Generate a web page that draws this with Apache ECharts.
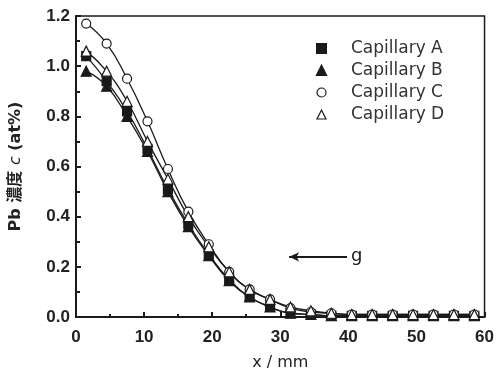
<!DOCTYPE html>
<html>
<head>
<meta charset="utf-8">
<script src="https://cdn.jsdelivr.net/npm/echarts@6/dist/echarts.min.js"></script>
<style>
  html, body { margin: 0; padding: 0; background: #fff; }
  #chart { width: 497px; height: 378px; }
</style>
</head>
<body>
<div id="chart"></div>
<script>
// positions along the capillary (mm)
var xPos = [1.5, 4.5, 7.5, 10.5, 13.5, 16.5, 19.5, 22.5, 25.5, 28.5, 31.5, 34.5, 37.5, 40.5, 43.5, 46.5, 49.5, 52.5, 55.5, 58.5];
// Pb concentration (at%)
var capA = [1.04, 0.94, 0.82, 0.67, 0.51, 0.37, 0.25, 0.15, 0.08, 0.04, 0.015, 0.01, 0.005, 0.005, 0.005, 0.005, 0.005, 0.005, 0.005, 0.005];
var capB = [0.98, 0.92, 0.80, 0.66, 0.50, 0.36, 0.245, 0.145, 0.08, 0.04, 0.015, 0.01, 0.005, 0.005, 0.005, 0.005, 0.005, 0.005, 0.005, 0.005];
var capC = [1.17, 1.09, 0.95, 0.78, 0.59, 0.42, 0.29, 0.18, 0.11, 0.07, 0.035, 0.02, 0.015, 0.01, 0.01, 0.01, 0.01, 0.01, 0.01, 0.01];
var capD = [1.06, 0.98, 0.86, 0.70, 0.55, 0.40, 0.28, 0.18, 0.11, 0.07, 0.04, 0.025, 0.015, 0.01, 0.01, 0.01, 0.01, 0.01, 0.01, 0.01];
var names = ['Capillary A', 'Capillary B', 'Capillary C', 'Capillary D'];

var ink = '#1a1a1a';
var font = 'DejaVu Sans';
var tickFont = 'Liberation Sans';

function pairs(ys) {
  return xPos.map(function (x, i) { return [x, ys[i]]; });
}

function makeSeries(name, ys, symbol, size, filled) {
  return {
    name: name,
    type: 'line',
    smooth: true,
    data: pairs(ys),
    symbol: symbol,
    symbolSize: size,
    showAllSymbol: true,
    lineStyle: { color: ink, width: 1.3 },
    itemStyle: { color: filled ? ink : '#fff', borderColor: ink, borderWidth: 1.2 },
    emphasis: { disabled: true },
    z: filled ? 2 : 3
  };
}

var chart = echarts.init(document.getElementById('chart'));
var series = [
  makeSeries(names[0], capA, 'rect', 9, true),
  makeSeries(names[1], capB, 'triangle', 10, true),
  makeSeries(names[2], capC, 'circle', 9, false),
  makeSeries(names[3], capD, 'triangle', 10, false)
];
// arrow pointing at the profile, labelled g
series[0].markLine = {
  silent: true,
  symbol: ['none', 'arrow'],
  symbolSize: [7, 10],
  lineStyle: { color: ink, width: 2, type: 'solid' },
  label: { show: true, position: 'start', formatter: 'g', color: ink, fontFamily: font, fontSize: 18, distance: 4 },
  data: [[{ coord: [39.8, 0.24] }, { coord: [31.3, 0.24] }]]
};

chart.setOption({
  animation: false,
  backgroundColor: '#fff',
  grid: { left: 75, right: 8, top: 16, bottom: 61, show: true, borderColor: ink, borderWidth: 1.5 },
  legend: {
    orient: 'vertical',
    left: 311,
    top: 35,
    itemWidth: 9,
    itemHeight: 9,
    itemGap: 5,
    data: [
      { name: names[0], icon: 'rect' },
      { name: names[1], icon: 'triangle' },
      { name: names[2], icon: 'circle', itemStyle: { color: '#fff', borderColor: ink, borderWidth: 1.2 } },
      { name: names[3], icon: 'triangle', itemStyle: { color: '#fff', borderColor: ink, borderWidth: 1.2 } }
    ],
    textStyle: { color: '#333', fontFamily: font, fontSize: 17, padding: [0, 0, 0, 20] }
  },
  xAxis: {
    type: 'value',
    min: 0, max: 60, interval: 10,
    name: 'x / mm',
    nameLocation: 'middle',
    nameGap: 38,
    nameTextStyle: { color: '#222', fontFamily: font, fontSize: 16 },
    axisLine: { lineStyle: { color: ink, width: 2 } },
    axisTick: { inside: true, length: 5, lineStyle: { color: ink, width: 2 } },
    minorTick: { show: true, splitNumber: 2, length: 3, lineStyle: { color: ink, width: 2 } },
    axisLabel: { color: '#222', fontFamily: tickFont, fontWeight: 'bold', fontSize: 17, margin: 12 },
    splitLine: { show: false }
  },
  yAxis: {
    type: 'value',
    min: 0, max: 1.2, interval: 0.2,
    name: '{n|Pb 濃度 }{i|c}{n| (at%)}',
    nameLocation: 'middle',
    nameGap: 52,
    nameTextStyle: {
      rich: {
        n: { color: '#222', fontFamily: font + ', Noto Sans CJK JP', fontSize: 16, fontWeight: 'bold' },
        i: { color: '#222', fontFamily: font, fontSize: 16, fontStyle: 'italic' }
      }
    },
    axisLine: { lineStyle: { color: ink, width: 2 } },
    axisTick: { inside: true, length: 5, lineStyle: { color: ink, width: 2 } },
    minorTick: { show: true, splitNumber: 2, length: 4, lineStyle: { color: ink, width: 2 } },
    axisLabel: {
      color: '#222', fontFamily: tickFont, fontWeight: 'bold', fontSize: 17, margin: 6,
      formatter: function (v) { return v.toFixed(1); }
    },
    splitLine: { show: false }
  },
  series: series
});
</script>
</body>
</html>
